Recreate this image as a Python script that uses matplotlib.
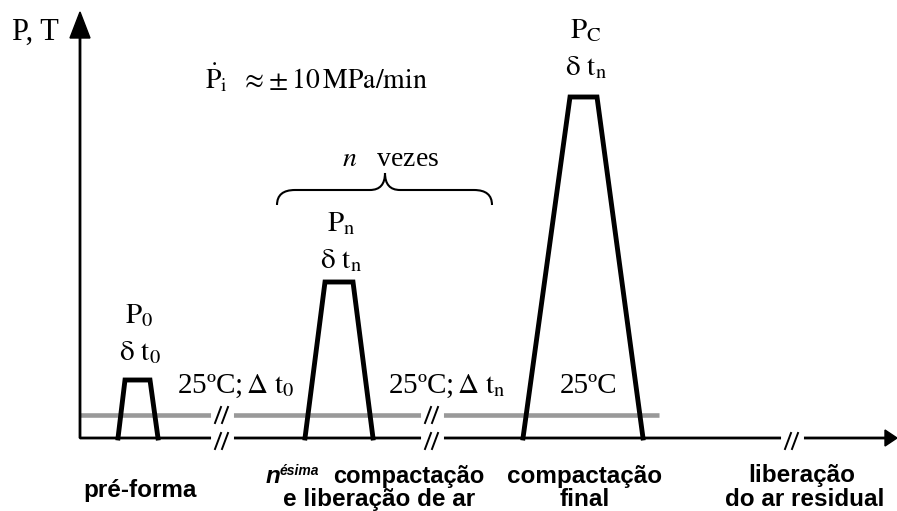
import matplotlib.pyplot as plt
from matplotlib.path import Path
from matplotlib.patches import PathPatch

plt.rcParams['font.family'] = ['Liberation Serif', 'DejaVu Serif']
plt.rcParams['mathtext.fontset'] = 'stix'

# Ciclos de pressao (tempo em unidades arbitrarias)
t_ini = [38, 225, 443]
t_topo_ini = [45, 245, 490]
t_topo_fim = [70, 273, 517]
t_fim = [78, 293, 563]
pico = [58, 156, 341]
rot_p = [r'$\mathrm{P}_0$', r'$\mathrm{P}_\mathrm{n}$', r'$\mathrm{P}_\mathrm{C}$']
rot_dt = [r'$\mathrm{\delta\ t}_0$', r'$\mathrm{\delta\ t}_\mathrm{n}$',
          r'$\mathrm{\delta\ t}_\mathrm{n}$']

# Temperatura ambiente
temp_nivel = 23
temp_fim = 579
quebras_temp = [142, 352]
quebras_eixo = [142, 352, 712]

fig = plt.figure(figsize=(8.97, 5.11), dpi=100)
ax = fig.add_axes([0, 0, 1, 1])
ax.set_xlim(-80, 817)
ax.set_ylim(-73, 438)
ax.axis('off')

# Eixos com setas
ax.arrow(0, 0, 817, 0, width=1.4, head_width=16, head_length=12,
         length_includes_head=True, color='black', zorder=3)
ax.arrow(0, 0, 0, 426, width=1.4, head_width=20, head_length=26,
         length_includes_head=True, color='black', zorder=3)

# Linha de temperatura
ax.plot([0, temp_fim], [temp_nivel, temp_nivel], color='#999999', lw=3.3,
        solid_capstyle='butt', zorder=2)


def quebra(x, y, dy):
    ax.plot([x - 8, x + 8], [y, y], color='white', lw=5, zorder=4)
    for dx in (-4, 3):
        ax.plot([x + dx - 3, x + dx + 3], [y - dy - 8, y - dy + 8],
                color='black', lw=1.4, zorder=5)


for xq in quebras_temp:
    quebra(xq, temp_nivel, 0)
for xq in quebras_eixo:
    quebra(xq, 0, 3)

# Pulsos de pressao
offs = [20, 14, 22]
for i in range(len(pico)):
    xs = [t_ini[i], t_topo_ini[i], t_topo_fim[i], t_fim[i]]
    ys = [0, pico[i], pico[i], 0]
    ax.plot(xs, ys, color='black', lw=3.5, solid_joinstyle='miter', zorder=6)
    xc = (t_topo_ini[i] + t_topo_fim[i]) / 2
    ax.text(xc + 2, pico[i] + offs[i], rot_dt[i], ha='center', va='baseline', fontsize=21)
    ax.text(xc + 2, pico[i] + offs[i] + 37, rot_p[i], ha='center', va='baseline', fontsize=21)

# Textos em serifa
ax.text(-68, 398, 'P, T', ha='left', va='baseline', fontsize=22)
ax.text(125, 350, r'$\dot{\mathrm{P}}_\mathrm{i}\ \ \approx\!\pm10\,\mathrm{MPa/min}$',
        ha='left', va='baseline', fontsize=20)
ax.text(97, 45, r'25ºC;$\,\Delta\ \mathrm{t}_0$', ha='left', va='baseline', fontsize=21)
ax.text(308, 45, r'25ºC;$\,\Delta\ \mathrm{t}_\mathrm{n}$', ha='left', va='baseline', fontsize=21)
ax.text(480, 45, '25ºC', ha='left', va='baseline', fontsize=21)

# Chave "n vezes"
verts = [(197, 233), (197, 248), (215, 248), (290, 248), (305, 248), (305, 265),
         (305, 248), (320, 248), (394, 248), (412, 248), (412, 233)]
codes = [Path.MOVETO, Path.CURVE3, Path.CURVE3, Path.LINETO, Path.CURVE3, Path.CURVE3,
         Path.CURVE3, Path.CURVE3, Path.LINETO, Path.CURVE3, Path.CURVE3]
ax.add_patch(PathPatch(Path(verts, codes), fill=False, lw=1.5, color='black'))
ax.text(311, 272, r'$n$   vezes', ha='center', va='baseline', fontsize=20)

# Legendas das etapas
sans = ['Liberation Sans', 'DejaVu Sans']
ax.text(60, -59, 'pré-forma', ha='center', va='baseline', fontsize=17.5,
        fontweight='bold', family=sans)
ax.text(186, -45, 'n', ha='left', va='baseline', fontsize=17.5,
        fontweight='bold', style='italic', family=sans)
ax.text(200, -37, 'ésima', ha='left', va='baseline', fontsize=10,
        fontweight='bold', style='italic', family=sans)
ax.text(404, -45, 'compactação', ha='right', va='baseline', fontsize=17,
        fontweight='bold', family=sans)
ax.text(299, -68, 'e liberação de ar', ha='center', va='baseline', fontsize=17.5,
        fontweight='bold', family=sans)
ax.text(505, -45, 'compactação', ha='center', va='baseline', fontsize=17.5,
        fontweight='bold', family=sans)
ax.text(505, -68, 'final', ha='center', va='baseline', fontsize=17.5,
        fontweight='bold', family=sans)
ax.text(722, -44, 'liberação', ha='center', va='baseline', fontsize=17.5,
        fontweight='bold', family=sans)
ax.text(725, -68, 'do ar residual', ha='center', va='baseline', fontsize=17.5,
        fontweight='bold', family=sans)

fig.savefig('out.png', dpi=100)
